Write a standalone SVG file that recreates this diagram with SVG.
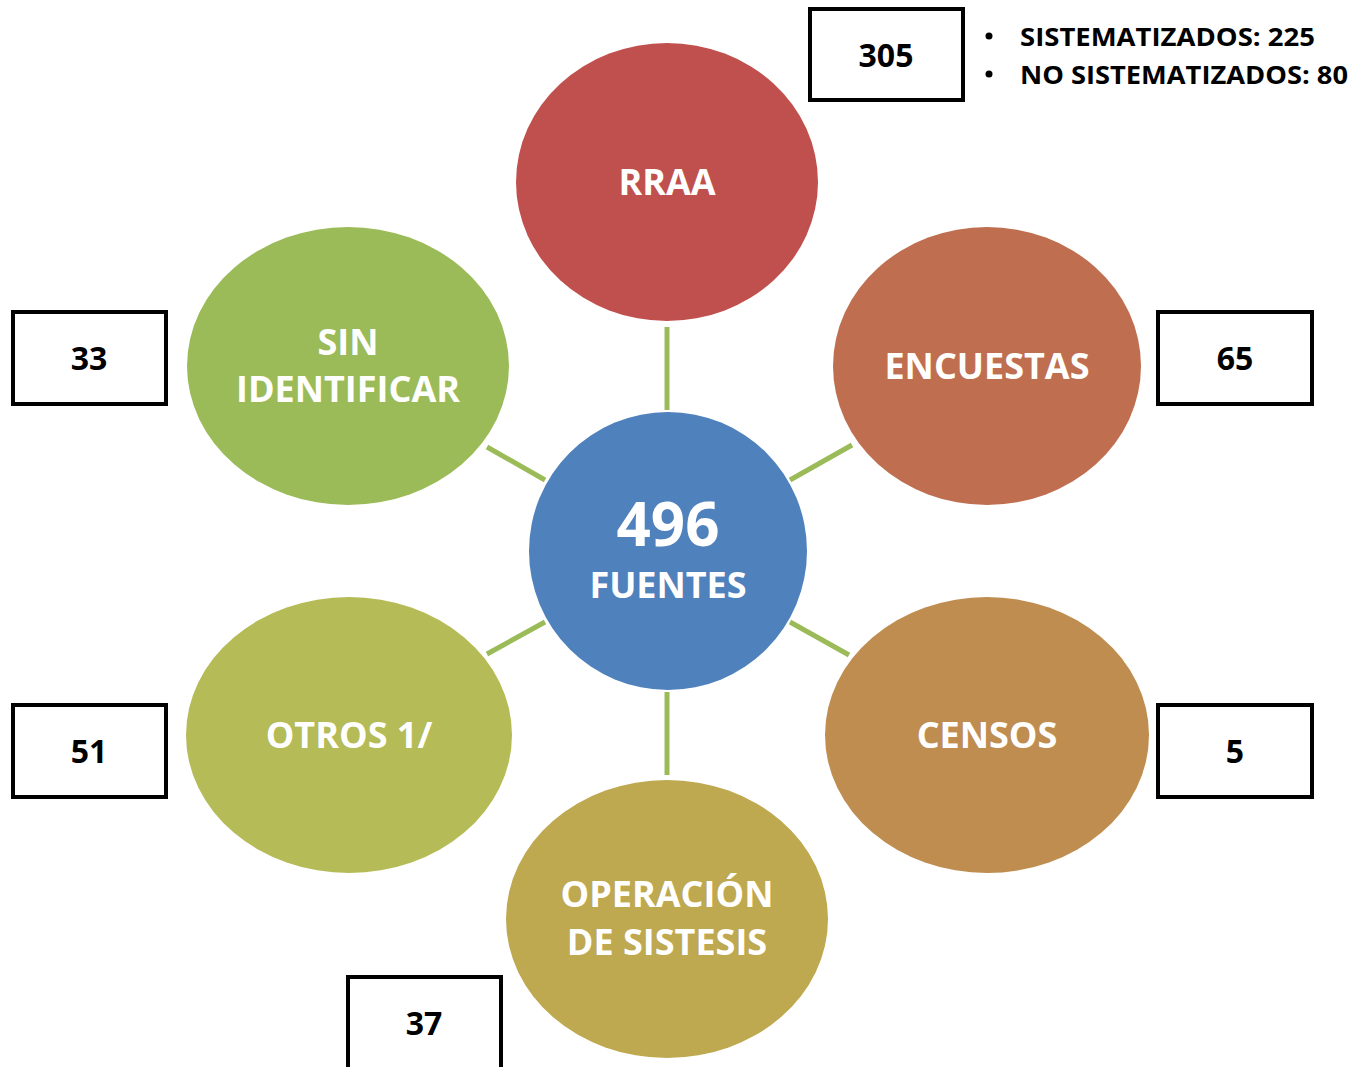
<svg xmlns="http://www.w3.org/2000/svg" width="1361" height="1067" viewBox="0 0 1361 1067">
<style>
.lbl{font-family:"Open Sans","Liberation Sans",sans-serif;font-weight:bold;fill:#fff;text-anchor:middle}
.num{font-family:"Open Sans","Liberation Sans",sans-serif;font-weight:bold;fill:#000;text-anchor:middle;font-size:32px}
.box{fill:#fff;stroke:#000;stroke-width:4}
.con line{stroke:#9BBB59;stroke-width:5}
.note{font-family:"Open Sans","Liberation Sans",sans-serif;font-weight:bold;fill:#000;font-size:25px}
</style>
<rect width="1361" height="1067" fill="#fff"/>
<g class="con" id="connectors">
<line x1="667" y1="327" x2="667" y2="410"/>
<line x1="667" y1="692" x2="667" y2="775"/>
<line x1="487" y1="447" x2="545" y2="480"/>
<line x1="790" y1="480" x2="852" y2="445"/>
<line x1="487" y1="654" x2="545" y2="622"/>
<line x1="790" y1="622" x2="849" y2="655"/>
</g>
<g id="rraa"><ellipse cx="667" cy="182" rx="151" ry="139" fill="#C0504D"/><text class="lbl" x="667" y="195" font-size="36">RRAA</text></g>
<g id="encuestas"><ellipse cx="987" cy="366" rx="154" ry="139" fill="#BF6E50"/><text class="lbl" x="987" y="379" font-size="36">ENCUESTAS</text></g>
<g id="censos"><ellipse cx="987" cy="735" rx="162" ry="138" fill="#BF8D50"/><text class="lbl" x="987" y="748" font-size="36">CENSOS</text></g>
<g id="operacion"><ellipse cx="667" cy="919" rx="161" ry="139" fill="#BEA850"/><text class="lbl" x="667" y="907" font-size="36">OPERACIÓN</text><text class="lbl" x="667" y="955" font-size="36">DE SISTESIS</text></g>
<g id="otros"><ellipse cx="349" cy="735" rx="163" ry="138" fill="#B5BB56"/><text class="lbl" x="349" y="748" font-size="36">OTROS 1/</text></g>
<g id="sin"><ellipse cx="348" cy="366" rx="161" ry="139" fill="#9BBB59"/><text class="lbl" x="348" y="355" font-size="36">SIN</text><text class="lbl" x="348" y="402" font-size="36">IDENTIFICAR</text></g>
<g id="center"><circle cx="668" cy="551" r="139" fill="#4F81BD"/><text class="lbl" x="668" y="546" font-size="60">496</text><text class="lbl" x="668" y="598" font-size="36">FUENTES</text></g>
<g id="box305"><rect class="box" x="810" y="9" width="153" height="91"/><text class="num" x="886" y="67">305</text></g>
<g id="box33"><rect class="box" x="13" y="312" width="153" height="92"/><text class="num" x="89" y="370">33</text></g>
<g id="box65"><rect class="box" x="1158" y="312" width="154" height="92"/><text class="num" x="1235" y="370">65</text></g>
<g id="box51"><rect class="box" x="13" y="705" width="153" height="92"/><text class="num" x="89" y="763">51</text></g>
<g id="box5"><rect class="box" x="1158" y="705" width="154" height="92"/><text class="num" x="1235" y="763">5</text></g>
<g id="box37"><rect class="box" x="348" y="977" width="153" height="100"/><text class="num" x="424" y="1035">37</text></g>
<g id="notes">
<circle cx="989" cy="36" r="3.5" fill="#000"/><circle cx="989" cy="74" r="3.5" fill="#000"/>
<text class="note" x="1020" y="46" textLength="295" lengthAdjust="spacingAndGlyphs">SISTEMATIZADOS: 225</text>
<text class="note" x="1020" y="84" textLength="328" lengthAdjust="spacingAndGlyphs">NO SISTEMATIZADOS: 80</text>
</g>
</svg>
